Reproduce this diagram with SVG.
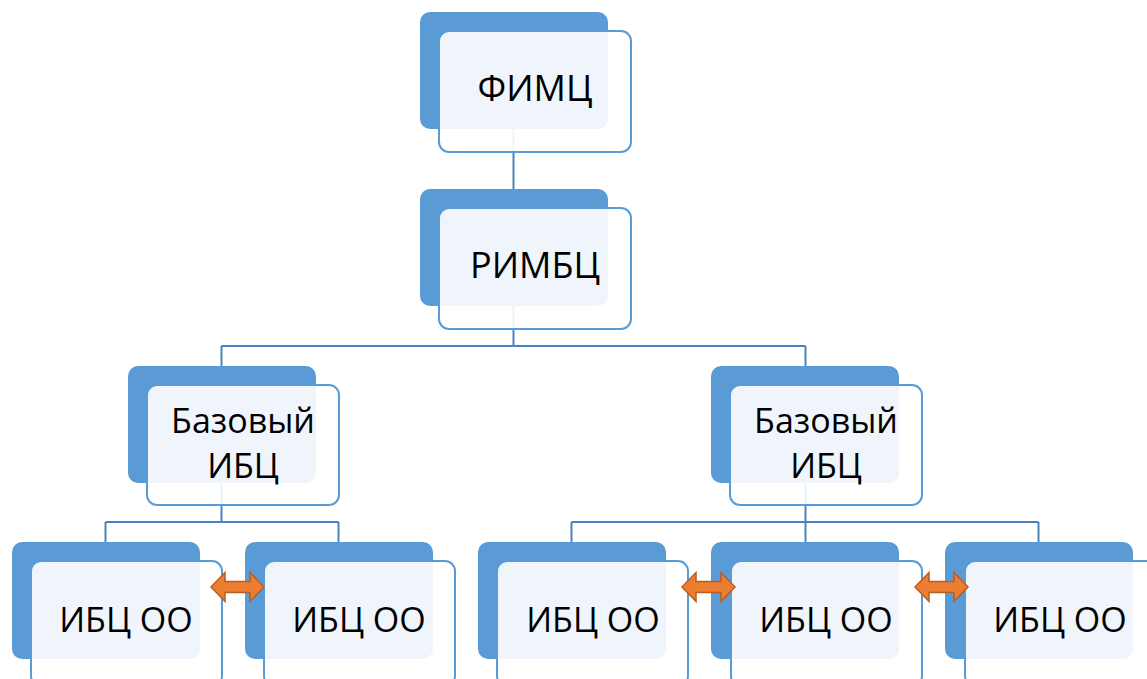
<svg xmlns="http://www.w3.org/2000/svg" xmlns:xlink="http://www.w3.org/1999/xlink" width="1147" height="679" viewBox="0 0 1147 679">
<style>
.back{fill:#5B9BD5;}
.front{fill:#ffffff;fill-opacity:0.9;stroke:#5B9BD5;stroke-width:2;}
.conn{fill:none;stroke:#4A82BE;stroke-width:2;}
.lbl{font-family:"Open Sans","Liberation Sans",sans-serif;font-size:34px;fill:#000;text-anchor:middle;}
.big{font-size:36px;}
.arr{fill:#ED7D31;stroke:#B85E22;stroke-width:1.5;stroke-linejoin:miter;}
</style>
<defs>
<path id="dbl" d="M0,0 L14,-14.5 L14,-5.5 L39,-5.5 L39,-14.5 L53,0 L39,14.5 L39,5.5 L14,5.5 L14,14.5 Z"/>
</defs>
<rect width="1147" height="679" fill="#ffffff"/>
<g id="connectors">
<path class="conn" d="M513.5,129 V189"/>
<path class="conn" d="M513.5,306 V346 M221.5,346 H805.5 M221.5,346 V366 M805.5,346 V366"/>
<path class="conn" d="M221.5,483 V522 M105.5,522 H338.5 M105.5,522 V542 M338.5,522 V542"/>
<path class="conn" d="M805.5,483 V522 M571.5,522 H1038.5 M571.5,522 V542 M805.5,522 V542 M1038.5,522 V542"/>
</g>
<g id="n-fimc">
<rect class="back" x="420" y="12" width="188" height="117" rx="10"/>
<rect class="front" x="439" y="31" width="192" height="121" rx="10"/>
<text class="lbl big" x="535" y="101">ФИМЦ</text>
</g>
<g id="n-rimbc">
<rect class="back" x="420" y="189" width="188" height="117" rx="10"/>
<rect class="front" x="439" y="208" width="192" height="121" rx="10"/>
<text class="lbl big" x="535" y="278">РИМБЦ</text>
</g>
<g id="n-base-left">
<rect class="back" x="128" y="366" width="188" height="117" rx="10"/>
<rect class="front" x="147" y="385" width="192" height="120" rx="10"/>
<text class="lbl" x="243" y="433">Базовый</text>
<text class="lbl" x="243" y="478">ИБЦ</text>
</g>
<g id="n-base-right">
<rect class="back" x="711" y="366" width="188" height="117" rx="10"/>
<rect class="front" x="730" y="385" width="192" height="120" rx="10"/>
<text class="lbl" x="826" y="433">Базовый</text>
<text class="lbl" x="826" y="478">ИБЦ</text>
</g>
<g id="n-oo1">
<rect class="back" x="12" y="542" width="188" height="117" rx="10"/>
<rect class="front" x="31" y="561" width="191" height="125" rx="10"/>
<text class="lbl" x="126" y="632">ИБЦ ОО</text>
</g>
<g id="n-oo2">
<rect class="back" x="245" y="542" width="188" height="117" rx="10"/>
<rect class="front" x="264" y="561" width="191" height="125" rx="10"/>
<text class="lbl" x="359" y="632">ИБЦ ОО</text>
</g>
<g id="n-oo3">
<rect class="back" x="478" y="542" width="188" height="117" rx="10"/>
<rect class="front" x="497" y="561" width="191" height="125" rx="10"/>
<text class="lbl" x="593" y="632">ИБЦ ОО</text>
</g>
<g id="n-oo4">
<rect class="back" x="711" y="542" width="188" height="117" rx="10"/>
<rect class="front" x="731" y="561" width="191" height="125" rx="10"/>
<text class="lbl" x="826" y="632">ИБЦ ОО</text>
</g>
<g id="n-oo5">
<rect class="back" x="945" y="542" width="188" height="117" rx="10"/>
<rect class="front" x="965" y="561" width="191" height="125" rx="10"/>
<text class="lbl" x="1060" y="632">ИБЦ ОО</text>
</g>
<g id="arrows">
<use xlink:href="#dbl" class="arr" transform="translate(211,587)"/>
<use xlink:href="#dbl" class="arr" transform="translate(682,587)"/>
<use xlink:href="#dbl" class="arr" transform="translate(915,587)"/>
</g>
</svg>
